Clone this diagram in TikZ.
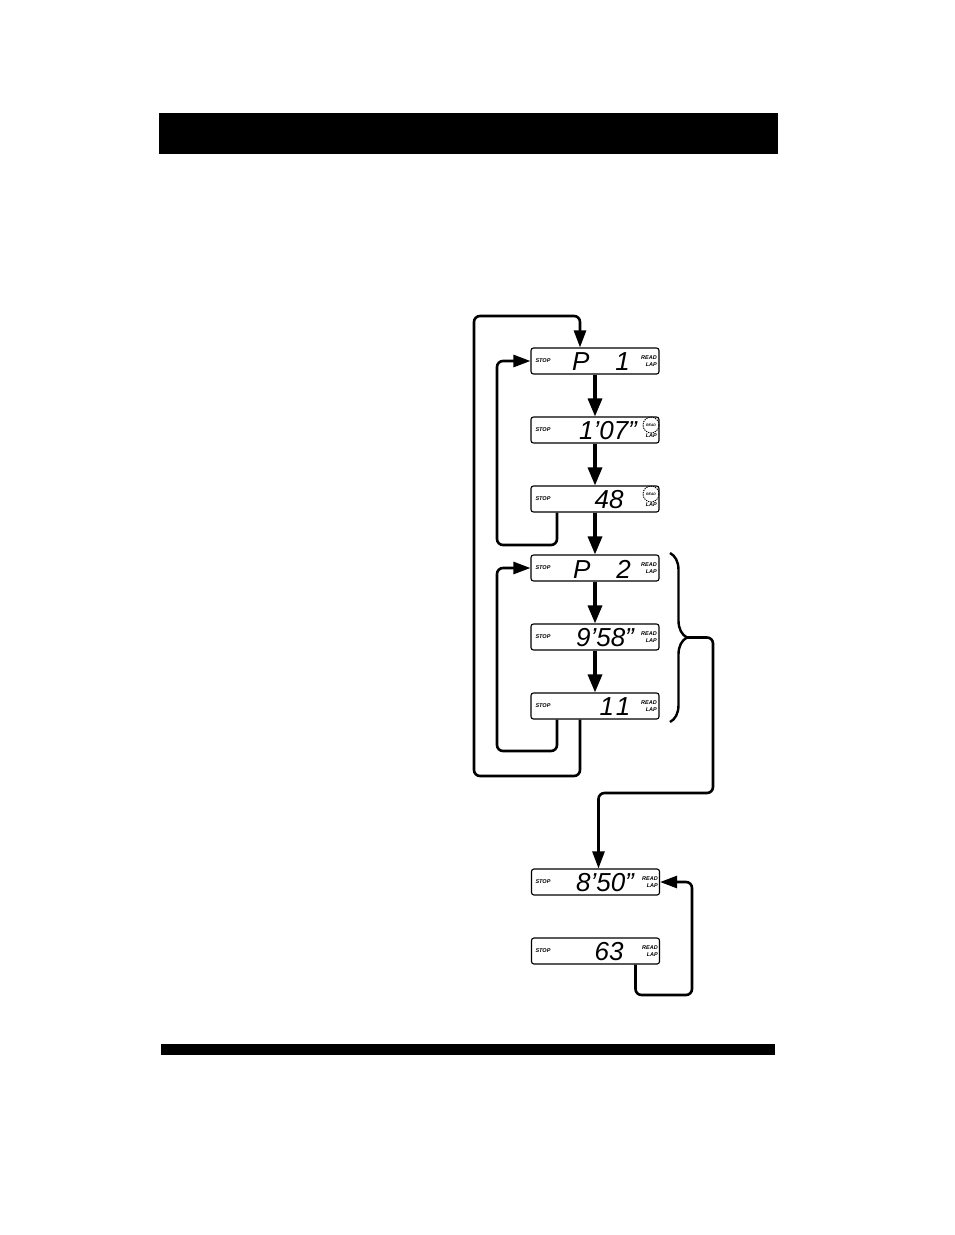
\documentclass[tikz,border=0pt]{standalone}
\usepackage{fontspec}
\setmainfont{Liberation Sans}
\usetikzlibrary{arrows.meta,decorations.pathreplacing}

\begin{document}
\begin{tikzpicture}[x=1pt, y=-1pt,
  lcdnode/.style={draw, rounded corners=2.5pt, line width=1.1pt, minimum width=128pt, minimum height=26pt, inner sep=0pt},
  tagnode/.style={font=\fontsize{5.5}{5.5}\selectfont\bfseries\itshape, inner sep=0pt},
  modenode/.style={font=\fontsize{5.5}{6.5}\selectfont\bfseries\itshape, inner sep=0pt, align=right, anchor=east},
  blinknode/.style={draw, circle, dash pattern=on 1.3pt off 1pt, line width=0.9pt, minimum size=16pt, inner sep=0pt, font=\fontsize{3.5}{3.5}\selectfont\bfseries\itshape},
  digitnode/.style={font=\fontsize{26}{26}\selectfont\itshape, inner sep=0pt},
  stepline/.style={line width=3.3pt, -{Triangle[length=18pt,width=14pt]}},
  backline/.style={line width=2.6pt, rounded corners=6pt, -{Triangle[length=17pt,width=12pt]}}]
\useasboundingbox (0,0) rectangle (954,1235);
\fill (159,113) rectangle (778,154);
\fill (161,1044) rectangle (775,1055);

\node[lcdnode] at (595,361) (d1) {};
\node[tagnode] at (543,361) (s1) {STOP};
\node[digitnode] at (601,362) (v1) {P\hspace{26pt}1};
\node[modenode] at (657,361) (m1) {READ\\LAP};

\node[lcdnode] at (595,430) (d2) {};
\node[tagnode] at (543,430) (s2) {STOP};
\node[digitnode] at (608,431) (v2) {1’07”};
\node[blinknode] at (651,425) (b2) {READ};
\node[modenode] at (657,436) (m2) {LAP};
\draw[stepline] (d1) -- (d2);

\node[lcdnode] at (595,499) (d3) {};
\node[tagnode] at (543,499) (s3) {STOP};
\node[digitnode] at (609,500) (v3) {48};
\node[blinknode] at (651,494) (b3) {READ};
\node[modenode] at (657,505) (m3) {LAP};
\draw[stepline] (d2) -- (d3);

\node[lcdnode] at (595,568) (d4) {};
\node[tagnode] at (543,568) (s4) {STOP};
\node[digitnode] at (602,569) (v4) {P\hspace{26pt}2};
\node[modenode] at (657,568) (m4) {READ\\LAP};
\draw[stepline] (d3) -- (d4);

\node[lcdnode] at (595,637) (d5) {};
\node[tagnode] at (543,637) (s5) {STOP};
\node[digitnode] at (605,638) (v5) {9’58”};
\node[modenode] at (657,637) (m5) {READ\\LAP};
\draw[stepline] (d4) -- (d5);

\node[lcdnode] at (595,706) (d6) {};
\node[tagnode] at (543,706) (s6) {STOP};
\node[digitnode] at (615,707) (v6) {1\hspace{2pt}1};
\node[modenode] at (657,706) (m6) {READ\\LAP};
\draw[stepline] (d5) -- (d6);

\node[lcdnode] at (595.5,882) (d7) {};
\node[tagnode] at (543,882) (s7) {STOP};
\node[digitnode] at (605,883) (v7) {8’50”};
\node[modenode] at (658,882) (m7) {READ\\LAP};

\node[lcdnode] at (595.5,951) (d8) {};
\node[tagnode] at (543,951) (s8) {STOP};
\node[digitnode] at (609,952) (v8) {63};
\node[modenode] at (658,951) (m8) {READ\\LAP};

\coordinate (k1) at (497,545);
\coordinate (k2) at (497,751);
\coordinate (k3) at (474,776);
\coordinate (k4) at (474,316);
\coordinate (k5) at (713,793);
\coordinate (k6) at (692,995);
\coordinate (t1) at (687,637.5);

\draw[backline] ([xshift=-38pt]d3.south) |- (k1) |- (d1.west);
\draw[backline] ([xshift=-38pt]d6.south) |- (k2) |- (d4.west);
\draw[backline] ([xshift=-15pt]d6.south) |- (k3) -- (k4) -| ([xshift=-15pt]d1.north);
\draw[line width=2.4pt, decorate, decoration={brace, amplitude=17pt}] (670,553) -- (670,722);
\draw[backline] (t1) -| (k5) -| ([xshift=3pt]d7.north);
\draw[backline] ([xshift=40pt]d8.south) |- (k6) |- (d7.east);
\end{tikzpicture}
\end{document}
